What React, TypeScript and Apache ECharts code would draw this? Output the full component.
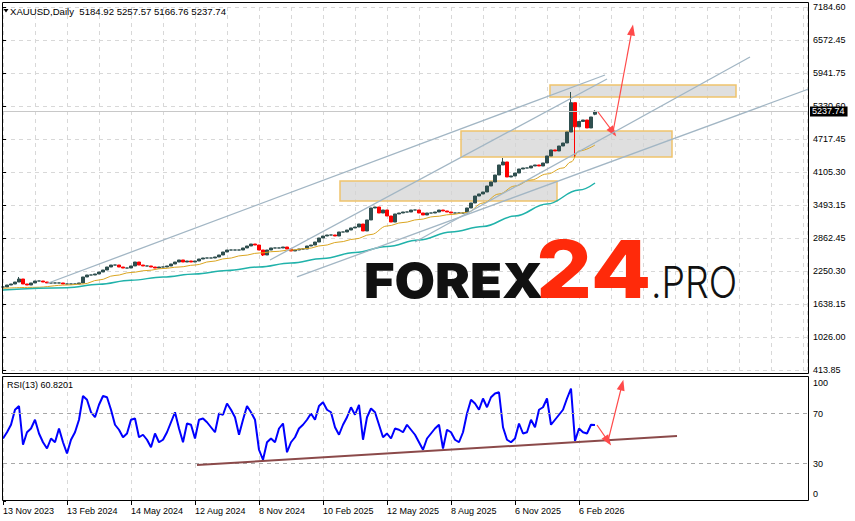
import React, { useEffect, useRef } from 'react';
import * as echarts from 'echarts';

// ---------- data ----------
const symbolName = 'XAUUSD,Daily';
const lastBar = [5184.92, 5257.57, 5166.76, 5237.74]; // open, high, low, close
const rsiTitle = 'RSI(13)';
const rsiLast = 60.8201;

const priceTickLabels = ['413.85', '1026.00', '1638.15', '2250.30', '2862.45', '3493.15', '4105.30', '4717.45', '5330.60', '5941.75', '6572.45', '7184.60'];
const priceMin = 413.85;
const priceMax = 7184.6;
const dateLabels = ['13 Nov 2023', '13 Feb 2024', '14 May 2024', '12 Aug 2024', '8 Nov 2024', '10 Feb 2025', '12 May 2025', '8 Aug 2025', '6 Nov 2025', '6 Feb 2026'];
const rsiTicks = [0, 30, 70, 100];
const rsiLevels = [30, 70];

// closes, one value per 4 trading days
const closes = [
  1962, 1999, 2018, 2055, 2111, 2018, 1999, 2037, 2074, 2074,
  2055, 2037, 2037, 2037, 2037, 2018, 2018, 2018, 2018, 2037,
  2149, 2186, 2186, 2205, 2242, 2279, 2335, 2372, 2372, 2335,
  2316, 2316, 2354, 2428, 2372, 2354, 2354, 2335, 2316, 2335,
  2335, 2354, 2391, 2428, 2466, 2428, 2447, 2428, 2447, 2484,
  2503, 2503, 2503, 2522, 2559, 2615, 2652, 2652, 2652, 2652,
  2690, 2727, 2764, 2745, 2652, 2559, 2652, 2690, 2690, 2690,
  2708, 2671, 2634, 2652, 2671, 2671, 2727, 2745, 2801, 2876,
  2913, 2932, 2932, 2913, 2988, 2988, 3025, 3063, 3081, 3137,
  3007, 3212, 3436, 3454, 3342, 3398, 3286, 3174, 3324, 3342,
  3361, 3361, 3398, 3398, 3342, 3305, 3342, 3342, 3361, 3398,
  3380, 3361, 3342, 3342, 3342, 3342, 3436, 3529, 3659, 3697,
  3734, 3846, 3921, 4051, 4238, 4294, 4014, 4033, 4088, 4163,
  4182, 4182, 4219, 4238, 4219, 4275, 4406, 4518, 4499, 4592,
  4648, 4853, 5400, 4950, 5050, 5077, 4928, 5133, 5237.74,
];
const wickHighs = [[4, 2149], [125, 4368], [142, 5599]];
const wickLows = [[65, 2540], [143, 4387]];

const maFast = [
  [0, 1938], [8, 1956], [16, 1999], [20, 2018], [24, 2093], [28, 2177], [32, 2233], [36, 2270],
  [40, 2307], [44, 2335], [48, 2372], [52, 2438], [56, 2494], [60, 2550], [64, 2596], [68, 2624],
  [72, 2652], [76, 2680], [80, 2736], [84, 2801], [88, 2857], [92, 2941], [96, 3100], [100, 3165],
  [104, 3221], [108, 3277], [112, 3314], [116, 3352], [120, 3529], [124, 3697], [128, 3846],
  [132, 3958], [136, 4070], [140, 4182], [142, 4294], [144, 4499], [148, 4611],
];
const maSlow = [
  [0, 1906], [16, 1949], [24, 2012], [32, 2087], [40, 2149], [48, 2205], [56, 2270], [64, 2335],
  [72, 2410], [80, 2494], [88, 2605], [96, 2717], [104, 2839], [112, 2988], [120, 3091],
  [128, 3286], [136, 3510], [144, 3771], [148, 3902],
];

const rsi = [
  50, 55, 61, 73, 76, 45, 55, 58, 65, 54,
  47, 42, 50, 47, 58, 47, 38, 49, 55, 65,
  84, 81, 71, 67, 77, 84, 83, 73, 61, 57,
  51, 54, 65, 66, 51, 53, 49, 43, 54, 47,
  49, 55, 63, 71, 58, 47, 62, 61, 50, 65,
  66, 63, 59, 55, 70, 69, 78, 73, 67, 53,
  65, 76, 71, 65, 41, 33, 47, 50, 47, 58,
  62, 39, 47, 51, 58, 61, 65, 70, 65, 76,
  79, 73, 71, 59, 53, 61, 67, 75, 69, 77,
  49, 67, 74, 71, 61, 51, 54, 50, 58, 57,
  55, 61, 57, 53, 47, 41, 50, 54, 58, 61,
  42, 57, 55, 49, 47, 55, 70, 81, 78, 73,
  82, 75, 83, 86, 87, 59, 49, 47, 50, 62,
  54, 55, 65, 59, 73, 75, 82, 61, 65, 69,
  73, 82, 90, 48, 58, 55, 54, 61, rsiLast,
];

const trendLines = [
  [[11, 2027], [150.5, 5916]],
  [[66.75, 2466], [151, 5842]],
  [[73.5, 2149], [213, 5972]],
  [[103, 2801], [186.75, 6252]],
];
const zones = [
  [[84.25, 3939], [138.5, 3566]],
  [[114.5, 4872], [167.25, 4387]],
  [[136.75, 5730], [183.25, 5506]],
];
const priceArrows = [
  [[148.75, 5226], [152.5, 4853]],
  [[152.5, 4853], [157.25, 6756]],
];
const rsiTrend = [[48.5, 28.8], [168.5, 52]];
const rsiArrows = [
  [[148.5, 60.8], [151.25, 48]],
  [[151.25, 48], [154.75, 92.8]],
];

// ---------- chart ----------
const FONT = 'Liberation Sans, Arial, sans-serif';
const X_MAX = 201;
const priceStep = (priceMax - priceMin) / 11;

function buildCandles() {
  return closes.map((c, i) => {
    if (i === closes.length - 1) {
      return [i, lastBar[0], lastBar[3], lastBar[2], lastBar[1]];
    }
    const o = i === 0 ? c : closes[i - 1];
    let lo = Math.min(o, c);
    let hi = Math.max(o, c);
    const wh = wickHighs.find((w) => w[0] === i);
    const wl = wickLows.find((w) => w[0] === i);
    if (wh) hi = Math.max(hi, wh[1]);
    if (wl) lo = Math.min(lo, wl[1]);
    return [i, o, c, lo, hi];
  });
}

const arrowItem = (seg: number[][], color: string) => [
  { coord: seg[0], symbol: 'none', lineStyle: { color, width: 1.2, type: 'solid' } },
  { coord: seg[1], symbol: 'triangle', symbolSize: [8, 11] },
];

function buildOption() {
  const gridLine = { show: true, lineStyle: { color: '#d8d8d8', type: [4, 4], width: 1 } };
  return {
    animation: false,
    backgroundColor: '#ffffff',
    textStyle: { fontFamily: FONT },
    grid: [
      { left: 3, top: 7, width: 804, height: 363 },
      { left: 3, top: 376, width: 804, height: 125 },
    ],
    xAxis: [
      {
        type: 'value', gridIndex: 0, min: 0, max: X_MAX, interval: 8,
        axisLine: { show: false }, axisTick: { show: false }, axisLabel: { show: false },
        splitLine: gridLine,
      },
      {
        type: 'value', gridIndex: 1, min: 0, max: X_MAX, interval: 8,
        axisLine: { show: false },
        axisTick: { show: true, length: 4, lineStyle: { color: '#000' }, customValues: dateLabels.map((_, i) => i * 16) },
        axisLabel: {
          show: true, customValues: dateLabels.map((_, i) => i * 16),
          formatter: (v: number) => dateLabels[Math.round(v / 16)] ?? '',
          align: 'left', margin: 5, fontSize: 9, color: '#000', fontFamily: FONT,
        },
        splitLine: gridLine,
      },
    ],
    yAxis: [
      {
        type: 'value', gridIndex: 0, position: 'right', offset: 1,
        min: priceMin, max: priceMax, interval: priceStep,
        axisLine: { show: false },
        axisTick: { show: true, length: 3, lineStyle: { color: '#000' } },
        axisLabel: {
          formatter: (v: number) => priceTickLabels[Math.round((v - priceMin) / priceStep)] ?? '',
          fontSize: 9, color: '#000', margin: 5, fontFamily: FONT,
        },
        splitLine: gridLine,
      },
      {
        type: 'value', gridIndex: 1, position: 'right', offset: 1, min: 0, max: 100,
        axisLine: { show: false },
        axisTick: { show: true, length: 3, lineStyle: { color: '#000' }, customValues: rsiTicks },
        axisLabel: {
          customValues: rsiTicks, margin: 5, fontSize: 9, color: '#000', fontFamily: FONT,
          formatter: (v: number) => (v === 100 ? '{t|100}' : v === 0 ? '{b|0}' : String(v)),
          rich: {
            t: { fontSize: 9, fontFamily: FONT, color: '#000', padding: [13, 0, 0, 0] },
            b: { fontSize: 9, fontFamily: FONT, color: '#000', padding: [0, 0, 15, 0] },
          },
        },
        splitLine: { show: false },
      },
    ],
    series: [
      {
        type: 'candlestick', xAxisIndex: 0, yAxisIndex: 0, z: 2,
        data: buildCandles(), barWidth: 3,
        itemStyle: { color: '#2f4f4f', color0: '#ff0000', borderColor: '#2f4f4f', borderColor0: '#ff0000', borderWidth: 1 },
        markLine: {
          silent: true, symbol: ['none', 'none'],
          data: [{
            yAxis: lastBar[3],
            lineStyle: { color: '#c8c8c8', type: 'solid', width: 1 },
            label: {
              show: true, position: 'end', distance: 3, formatter: lastBar[3].toFixed(2),
              backgroundColor: '#000', color: '#fff', fontSize: 9, fontFamily: FONT, padding: [1, 3, 0, 2],
            },
          }],
        },
      },
      {
        type: 'line', xAxisIndex: 0, yAxisIndex: 0, z: 3, data: maFast, showSymbol: false,
        smooth: 0.4, smoothMonotone: 'x', lineStyle: { color: '#daa520', width: 1 }, silent: true,
      },
      {
        type: 'line', xAxisIndex: 0, yAxisIndex: 0, z: 3, data: maSlow, showSymbol: false,
        smooth: 0.4, smoothMonotone: 'x', lineStyle: { color: '#20b2aa', width: 1.5 }, silent: true,
      },
      {
        type: 'line', xAxisIndex: 0, yAxisIndex: 0, z: 4, data: [], silent: true,
        markArea: {
          silent: true,
          itemStyle: { color: 'rgba(212,212,212,0.75)', borderColor: '#f0c46c', borderWidth: 1.5 },
          label: { show: false },
          data: zones.map((z) => [{ coord: z[0] }, { coord: z[1] }]),
        },
        markLine: {
          silent: true, symbol: ['none', 'none'], label: { show: false },
          data: priceArrows.map((a) => arrowItem(a, '#ff4a4a')),
        },
      },
      ...trendLines.map((t) => ({
        type: 'line', xAxisIndex: 0, yAxisIndex: 0, z: 5, data: t, showSymbol: false, clip: false,
        lineStyle: { color: '#a2b6c4', width: 1.3 }, silent: true,
      })),
      {
        type: 'line', xAxisIndex: 1, yAxisIndex: 1, z: 3,
        data: rsi.map((v, i) => [i, v]), showSymbol: false,
        lineStyle: { color: '#0000ff', width: 2 }, silent: true,
        markLine: {
          silent: true, symbol: ['none', 'none'], label: { show: false },
          data: [
            ...rsiLevels.map((l) => ({ yAxis: l, lineStyle: { color: '#a8a8a8', type: [4, 4], width: 1 } })),
            [{ coord: rsiTrend[0], lineStyle: { color: '#8b4a4a', type: 'solid', width: 2 } }, { coord: rsiTrend[1] }],
            ...rsiArrows.map((a) => arrowItem(a, '#ff4a4a')),
          ],
        },
      },
    ],
    graphic: [
      { type: 'polygon', z: 10, shape: { points: [[3.5, 9], [8.5, 9], [6, 12.5]] }, style: { fill: '#000' } },
      {
        type: 'text', x: 10, y: 11, z: 10,
        style: { text: `${symbolName}  ${[lastBar[0], lastBar[1], lastBar[2], lastBar[3]].map((v) => v.toFixed(2)).join(' ')}`, fill: '#000', fontSize: 9.6, fontFamily: FONT, verticalAlign: 'middle' },
      },
      {
        type: 'text', x: 7, y: 385, z: 10,
        style: { text: `${rsiTitle} ${rsiLast.toFixed(4)}`, fill: '#000', fontSize: 9, fontFamily: FONT, verticalAlign: 'middle' },
      },
      { type: 'text', x: 364, y: 280.5, z: 1, scaleX: 1.09, style: { text: 'FOREX', fill: '#111', fontSize: 48, fontWeight: 900, fontFamily: 'Inter', verticalAlign: 'middle' } },
      { type: 'text', x: 536, y: 269, z: 1, scaleX: 1.1, style: { text: '24', fill: '#ff2a0a', fontSize: 80, fontWeight: 800, fontFamily: 'Inter', verticalAlign: 'middle' } },
      { type: 'text', x: 651, y: 282.5, z: 1, scaleX: 0.87, style: { text: '.PRO', fill: '#111', fontSize: 43, fontWeight: 300, fontFamily: 'Inter', verticalAlign: 'middle' } },
      { type: 'rect', z: 10, shape: { x: 2.5, y: 2.5, width: 806, height: 371 }, style: { fill: 'none', stroke: '#000', lineWidth: 1 } },
      { type: 'rect', z: 10, shape: { x: 2.5, y: 376.5, width: 806, height: 124 }, style: { fill: 'none', stroke: '#000', lineWidth: 1 } },
    ],
  };
}

export default function App() {
  const ref = useRef<HTMLDivElement>(null);
  useEffect(() => {
    if (!ref.current) return;
    const chart = echarts.init(ref.current, null, { renderer: 'svg' });
    chart.setOption(buildOption() as any);
    return () => chart.dispose();
  }, []);
  return <div ref={ref} style={{ position: 'fixed', left: 0, top: 0, width: 855, height: 521, background: '#fff' }} />;
}
